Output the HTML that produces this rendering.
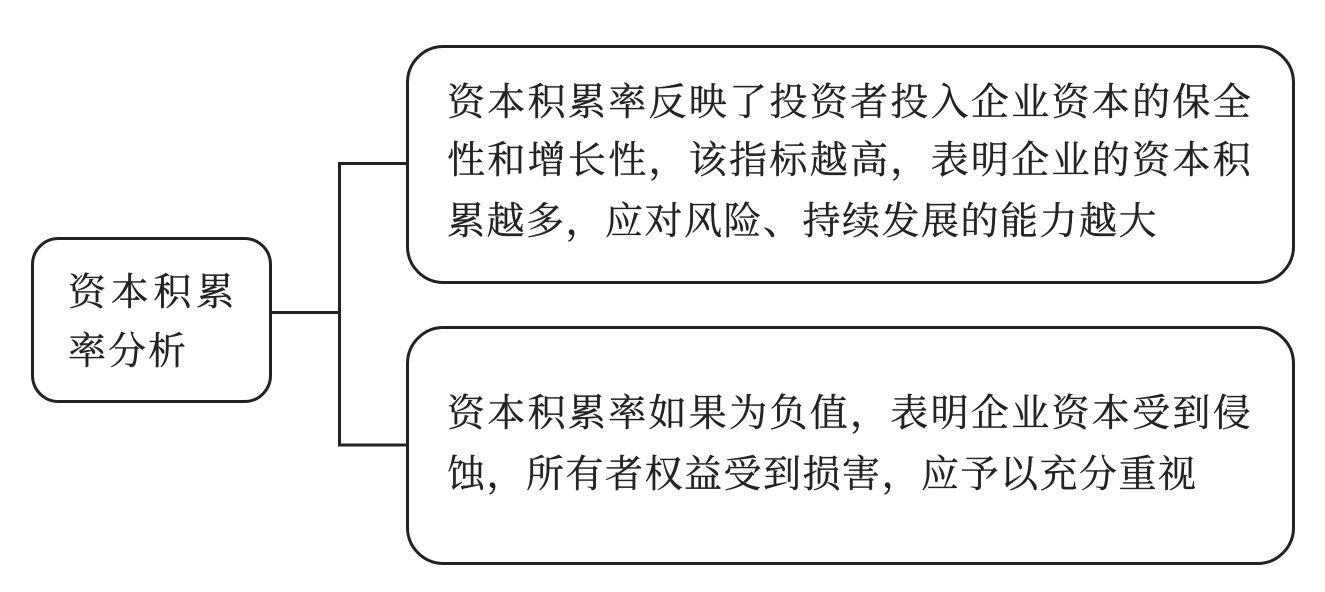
<!DOCTYPE html>
<html lang="zh">
<head>
<meta charset="utf-8">
<style>
html,body{margin:0;padding:0;background:#fff;width:1325px;height:592px;overflow:hidden}
svg{display:block}
text{font-family:"Liberation Serif","Noto Serif CJK SC",serif;font-size:38px;fill:#222;stroke:#222;stroke-width:.35px}
</style>
</head>
<body>
<svg width="1325" height="592" viewBox="0 0 1325 592" xmlns="http://www.w3.org/2000/svg">
<g fill="none" stroke="#222" stroke-width="3">
<rect x="32.5" y="238.5" width="238" height="163" rx="26" ry="26" fill="#fff"/>
<rect x="407.5" y="46.5" width="886" height="236" rx="36" ry="36" fill="#fff"/>
<rect x="407.5" y="327.5" width="886" height="236" rx="36" ry="36" fill="#fff"/>
<path d="M271 312.500H339.500M407 163.500H339.500V445H407"/>
</g>
<text x="68" y="305" letter-spacing="4.700">资本积累</text>
<text x="68" y="364" letter-spacing="2">率分析</text>
<text x="447" y="115" letter-spacing="2.300">资本积累率反映了投资者投入企业资本的保全</text>
<text x="447" y="173" letter-spacing="2.300">性和增长性，该指标越高，表明企业的资本积</text>
<text x="447" y="234" letter-spacing="1.500">累越多，应对风险、持续发展的能力越大</text>
<text x="447" y="426" letter-spacing="2.300">资本积累率如果为负值，表明企业资本受到侵</text>
<text x="447" y="487" letter-spacing="1.500">蚀，所有者权益受到损害，应予以充分重视</text>
</svg>
</body>
</html>
